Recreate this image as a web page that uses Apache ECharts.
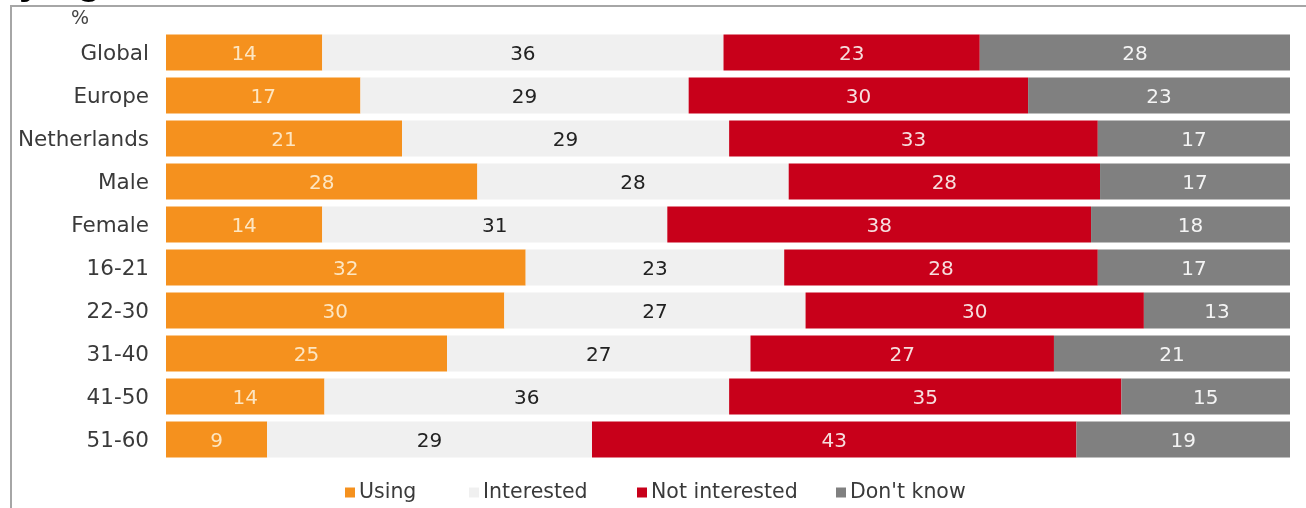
<!DOCTYPE html>
<html>
<head>
<meta charset="utf-8">
<title>Stacked bar chart</title>
<script src="https://cdn.jsdelivr.net/npm/echarts@6/dist/echarts.min.js"></script>
<style>
  html, body { margin: 0; padding: 0; background: #ffffff; }
  #chart { width: 1306px; height: 508px; }
</style>
</head>
<body>
<div id="chart"></div>
<script>
// Row labels, top to bottom
const categories = ['Global', 'Europe', 'Netherlands', 'Male', 'Female', '16-21', '22-30', '31-40', '41-50', '51-60'];

// Shares per row (%), each row adds up to 100
const using         = [13.9, 17.3, 21.0, 27.7, 13.9, 32.0, 30.1, 25.0, 14.1, 9.0];
const interested    = [35.7, 29.2, 29.1, 27.7, 30.7, 23.0, 26.8, 27.0, 36.0, 28.9];
const notInterested = [22.8, 30.2, 32.8, 27.7, 37.7, 27.9, 30.1, 27.0, 34.9, 43.1];
const dontKnow      = [27.6, 23.3, 17.1, 16.9, 17.7, 17.1, 13.0, 21.0, 15.0, 19.0];

const seriesNames = ['Using', 'Interested', 'Not interested', "Don't know"];

const FONT = '"DejaVu Sans", Verdana, sans-serif';

const chart = echarts.init(document.getElementById('chart'), null, { renderer: 'canvas' });

function stackSeries(name, values, color, labelColor) {
  return {
    name: name,
    type: 'bar',
    stack: 'total',
    data: values,
    barWidth: 36,
    itemStyle: { color: color },
    label: {
      show: true,
      position: 'inside',
      offset: [0, 2],
      color: labelColor,
      fontFamily: FONT,
      fontSize: 20,
      formatter: p => String(Math.round(p.value))
    },
    emphasis: { disabled: true }
  };
}

function legendAt(name, left) {
  return {
    data: [name],
    left: left,
    top: 482,
    icon: 'rect',
    itemWidth: 10,
    itemHeight: 10,
    itemGap: 0,
    padding: 0,
    selectedMode: false,
    textStyle: { fontFamily: FONT, fontSize: 20.5, color: '#3a3a3a', padding: [0, 0, 0, -1] }
  };
}

chart.setOption({
  animation: false,
  backgroundColor: '#ffffff',
  grid: { left: 166, right: 16, top: 31, bottom: 47, containLabel: false },
  xAxis: {
    type: 'value',
    min: 0,
    max: 100,
    show: false
  },
  yAxis: {
    type: 'category',
    data: categories,
    inverse: true,
    axisLine: { show: false },
    axisTick: { show: false },
    splitLine: { show: false },
    axisLabel: {
      margin: 17,
      color: '#3a3a3a',
      fontFamily: FONT,
      fontSize: 21.5,
      verticalAlign: 'top',
      lineHeight: 4
    }
  },
  legend: [
    legendAt(seriesNames[0], 345),
    legendAt(seriesNames[1], 469),
    legendAt(seriesNames[2], 637),
    legendAt(seriesNames[3], 836)
  ],
  graphic: [
    // heading above the frame, cut off by the page edge
    {
      type: 'text',
      left: -30,
      top: -37,
      silent: true,
      style: { text: 'Paying', font: 'bold 40px "Liberation Sans", Arial, sans-serif', fill: '#000000' }
    },
    // frame lines
    {
      type: 'line',
      silent: true,
      shape: { x1: 10, y1: 6, x2: 1306, y2: 6 },
      style: { stroke: '#a6a6a6', lineWidth: 2 }
    },
    {
      type: 'line',
      silent: true,
      shape: { x1: 11, y1: 5, x2: 11, y2: 508 },
      style: { stroke: '#a6a6a6', lineWidth: 2 }
    },
    // unit marker
    {
      type: 'text',
      left: 71,
      top: 10,
      silent: true,
      style: { text: '%', font: '19px ' + FONT, fill: '#444444' }
    }
  ],
  series: [
    stackSeries(seriesNames[0], using, '#f5911e', '#fde6c2'),
    stackSeries(seriesNames[1], interested, '#f0f0f0', '#222222'),
    stackSeries(seriesNames[2], notInterested, '#c8001a', '#f6dede'),
    stackSeries(seriesNames[3], dontKnow, '#808080', '#f4f4f4')
  ]
});
</script>
</body>
</html>
